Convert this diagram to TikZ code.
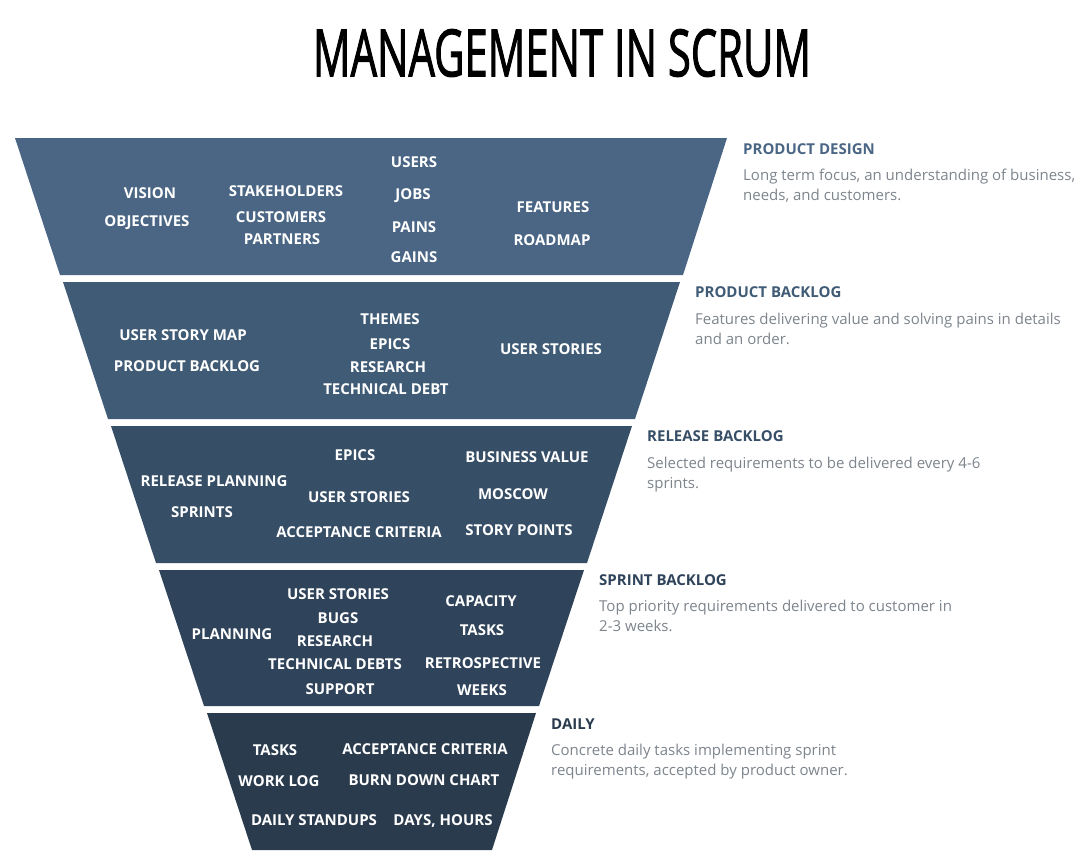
\documentclass[tikz,border=0pt]{standalone}
\usepackage{fontspec}
\setmainfont{Open Sans}
\newfontfamily\titlefont[FakeBold=2]{Open Sans}
\definecolor{bandA}{HTML}{4A6684}
\definecolor{bandB}{HTML}{405B75}
\definecolor{bandC}{HTML}{374E67}
\definecolor{bandD}{HTML}{2F435A}
\definecolor{bandE}{HTML}{2A3B4E}
\definecolor{descgray}{HTML}{7D848C}
\begin{document}
\begin{tikzpicture}[x=1pt,y=-1pt,
    lbl/.style={text=white,inner sep=0pt,font=\bfseries\fontsize{15}{18}\selectfont},
    head/.style={anchor=base west,inner sep=0pt,font=\bfseries\fontsize{15}{17}\selectfont},
    desc/.style={anchor=base west,inner sep=0pt,align=left,text=descgray,font=\fontsize{15}{20}\selectfont}]
    \useasboundingbox (0,0) rectangle (1079,859);
    %title
    \node (title) at (562,53) {\resizebox{498pt}{47pt}{\titlefont MANAGEMENT IN SCRUM}};
    %funnel bands
    \fill[bandA] (15,138) -- (727,138) -- (683,275) -- (60,275) -- cycle;
    \fill[bandB] (63,282) -- (680,282) -- (635,419) -- (108,419) -- cycle;
    \fill[bandC] (111,426) -- (632,426) -- (587,563) -- (156,563) -- cycle;
    \fill[bandD] (159,570) -- (584,570) -- (539,706) -- (204,706) -- cycle;
    \fill[bandE] (207,713) -- (536,713) -- (492,850) -- (252,850) -- cycle;
    %product design
    \node[lbl] (vision) at (150,193) {VISION};
    \node[lbl] (objectives) at (147,223) {OBJECTIVES};
    \node[lbl] (stakeholders) at (286,191) {STAKEHOLDERS};
    \node[lbl] (customers) at (281,217) {CUSTOMERS};
    \node[lbl] (partners) at (282,239) {PARTNERS};
    \node[lbl] (users) at (414,162) {USERS};
    \node[lbl] (jobs) at (413,196) {JOBS};
    \node[lbl] (pains) at (414,227) {PAINS};
    \node[lbl] (gains) at (414,257) {GAINS};
    \node[lbl] (features) at (553,207) {FEATURES};
    \node[lbl] (roadmap) at (552,240) {ROADMAP};
    %product backlog
    \node[lbl] (storymap) at (183,335) {USER STORY MAP};
    \node[lbl] (pbacklog) at (187,366) {PRODUCT BACKLOG};
    \node[lbl] (themes) at (390,319) {THEMES};
    \node[lbl] (epicsB) at (390,344) {EPICS};
    \node[lbl] (researchB) at (388,367) {RESEARCH};
    \node[lbl] (techdebt) at (386,389) {TECHNICAL DEBT};
    \node[lbl] (storiesB) at (551,349) {USER STORIES};
    %release backlog
    \node[lbl] (epicsC) at (355,455) {EPICS};
    \node[lbl] (bvalue) at (527,457) {BUSINESS VALUE};
    \node[lbl] (rplanning) at (214,481) {RELEASE PLANNING};
    \node[lbl] (storiesC) at (359,497) {USER STORIES};
    \node[lbl] (moscow) at (513,494) {MOSCOW};
    \node[lbl] (sprints) at (202,512) {SPRINTS};
    \node[lbl] (acceptC) at (359,532) {ACCEPTANCE CRITERIA};
    \node[lbl] (spoints) at (519,530) {STORY POINTS};
    %sprint backlog
    \node[lbl] (storiesD) at (338,594) {USER STORIES};
    \node[lbl] (capacity) at (481,601) {CAPACITY};
    \node[lbl] (bugs) at (338,618) {BUGS};
    \node[lbl] (planning) at (232,634) {PLANNING};
    \node[lbl] (tasksD) at (482,630) {TASKS};
    \node[lbl] (researchD) at (335,641) {RESEARCH};
    \node[lbl] (techdebts) at (335,664) {TECHNICAL DEBTS};
    \node[lbl] (retro) at (483,663) {RETROSPECTIVE};
    \node[lbl] (support) at (340,689) {SUPPORT};
    \node[lbl] (weeks) at (482,690) {WEEKS};
    %daily
    \node[lbl] (tasksE) at (275,750) {TASKS};
    \node[lbl] (acceptE) at (425,749) {ACCEPTANCE CRITERIA};
    \node[lbl] (worklog) at (279,781) {WORK LOG};
    \node[lbl] (burndown) at (424,780) {BURN DOWN CHART};
    \node[lbl] (standups) at (314,820) {DAILY STANDUPS};
    \node[lbl] (dayshours) at (443,821) {DAYS, HOURS};
    %right hand descriptions (base = last line)
    \node[head,text=bandA] (hdesign) at (743,154) {PRODUCT DESIGN};
    \node[desc] (ddesign) at (743,200) {Long term focus, an understanding of business,\\needs, and customers.};
    \node[head,text=bandB] (hproduct) at (695,297) {PRODUCT BACKLOG};
    \node[desc] (dproduct) at (695,344) {Features delivering value and solving pains in details\\and an order.};
    \node[head,text=bandC] (hrelease) at (647,441) {RELEASE BACKLOG};
    \node[desc] (drelease) at (647,488) {Selected requirements to be delivered every 4-6\\sprints.};
    \node[head,text=bandD] (hsprint) at (599,585) {SPRINT BACKLOG};
    \node[desc] (dsprint) at (599,631) {Top priority requirements delivered to customer in\\2-3 weeks.};
    \node[head,text=bandE] (hdaily) at (551,729) {DAILY};
    \node[desc] (ddaily) at (551,775) {Concrete daily tasks implementing sprint\\requirements, accepted by product owner.};
\end{tikzpicture}
\end{document}
